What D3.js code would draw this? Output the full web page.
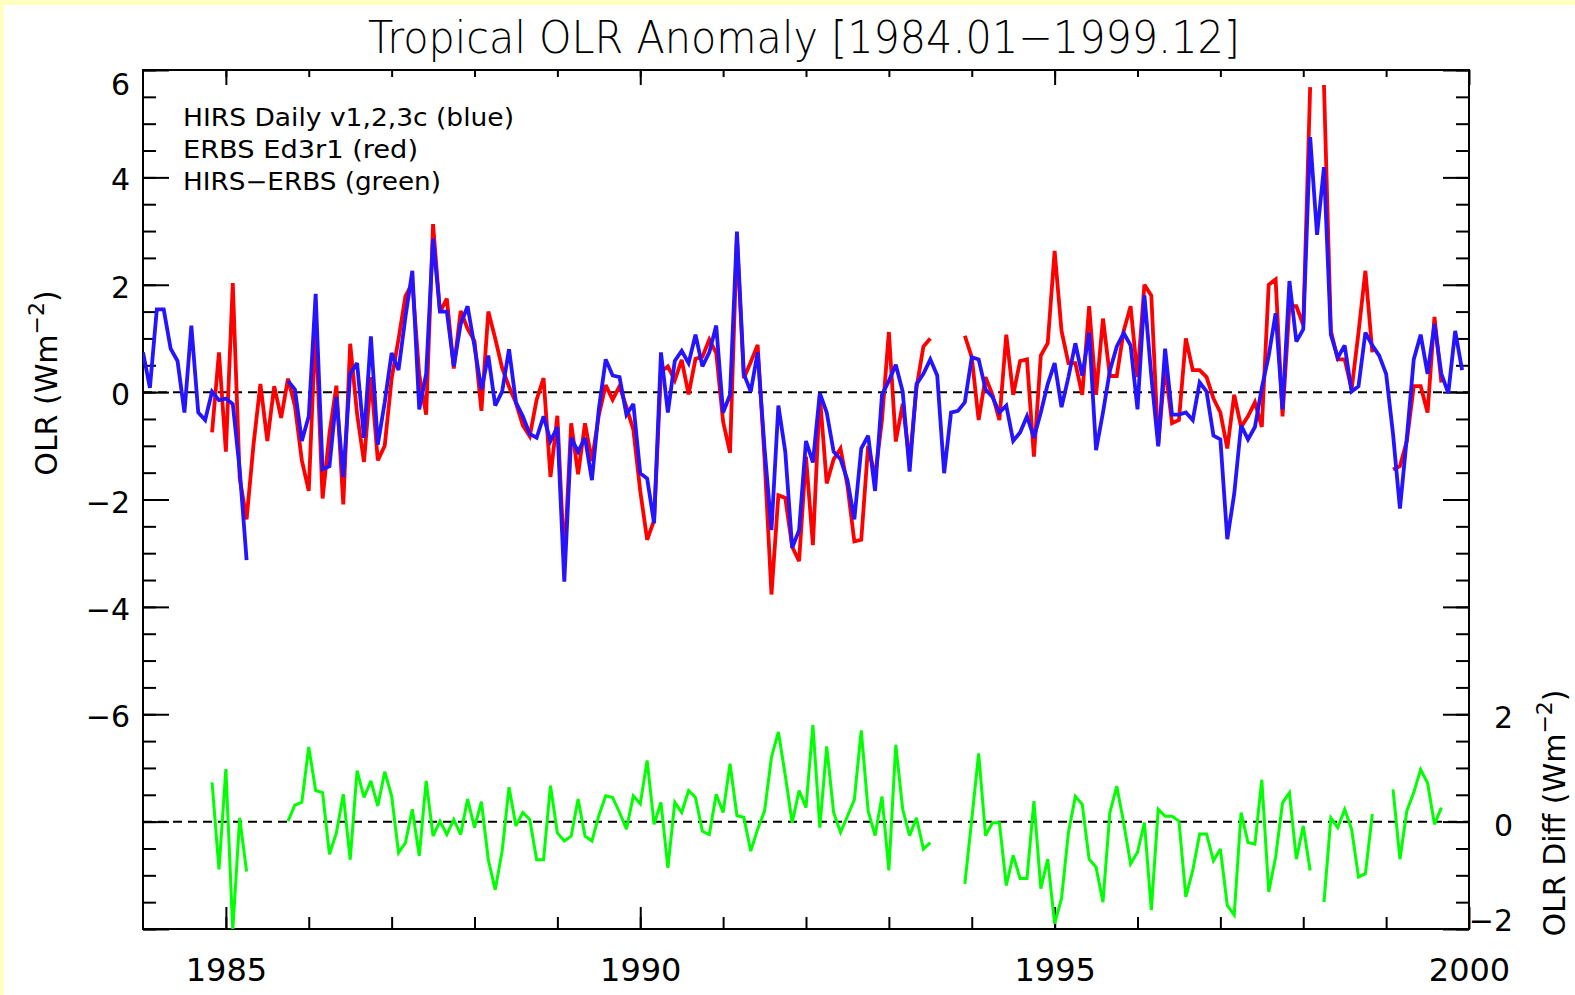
<!DOCTYPE html>
<html>
<head>
<meta charset="utf-8">
<script src="https://cdn.jsdelivr.net/npm/d3@7"></script>
<style>
  html, body { margin: 0; padding: 0; background: #ffffc0; }
  svg { display: block; }
</style>
</head>
<body>
<svg width="1575" height="995"></svg>
<script>
// monthly anomalies, 1984.01 - 1999.12 (one row = one year)
var startYear = 1984;
var hirs = [
  0.74, 0.08, 1.54, 1.54, 0.81, 0.58, -0.38, 1.24, -0.38, -0.52, 0.01, -0.15,
  -0.12, -0.22, -1.44, -3.13, null, null, null, null, null, 0.21, 0.05, -0.91,
  -0.45, 1.83, -1.44, -1.38, -0.09, -1.58, 0.34, 0.54, -0.85, 1.04, -0.98, -0.19,
  0.73, 0.41, 1.40, 2.26, -0.32, 0.34, 2.86, 1.50, 1.50, 0.48, 1.27, 1.60,
  0.85, 0.05, 0.68, -0.25, 0.01, 0.80, -0.19, -0.45, -0.78, -0.85, -0.45, -0.91,
  -0.65, -3.53, -0.85, -1.11, -0.85, -1.64, -0.32, 0.61, 0.31, 0.28, -0.42, -0.22,
  -1.51, -1.61, -2.44, 0.74, -0.38, 0.58, 0.77, 0.54, 1.07, 0.48, 0.74, 1.24,
  -0.38, -0.05, 2.99, 0.34, 0.01, 0.74, -1.05, -2.57, -0.25, -1.11, -2.90, -2.57,
  -0.91, -1.31, -0.02, -0.38, -1.11, -1.25, -1.64, -2.37, -1.05, -0.81, -1.84, -0.05,
  0.21, 0.51, 0.01, -1.48, 0.15, 0.34, 0.61, 0.31, -1.51, -0.38, -0.35, -0.19,
  0.65, 0.61, 0.05, -0.09, -0.38, -0.25, -0.91, -0.75, -0.45, -0.85, -0.38, 0.15,
  0.54, -0.28, 0.28, 0.91, 0.31, 1.11, -1.08, -0.38, 0.40, 0.85, 1.10, 0.87,
  -0.32, 1.80, 0.30, -1.01, 0.81, -0.42, -0.42, -0.38, -0.52, 0.18, 0.01, -0.81,
  -0.88, -2.74, -1.90, -0.62, -0.88, -0.65, 0.08, 0.68, 1.47, -0.32, 2.07, 0.94,
  1.17, 4.75, 2.93, 4.19, 1.07, 0.64, 0.87, 0.01, 0.11, 1.11, 0.87, 0.68,
  0.34, -0.78, -2.17, -0.85, 0.61, 1.07, 0.34, 1.27, 0.34, -0.02, 1.14, 0.41
];
var erbs = [
  null, null, null, null, null, null, null, null, null, null, -0.75, 0.74,
  -1.11, 2.03, -1.60, -2.37, -0.98, 0.15, -0.91, 0.11, -0.48, 0.25, -0.26, -1.27,
  -1.84, 1.25, -1.98, -0.77, 0.12, -2.09, 0.90, -0.41, -1.30, 0.28, -1.27, -1.00,
  0.25, 0.99, 1.79, 2.03, 0.32, -0.42, 3.13, 1.49, 1.74, 0.44, 1.51, 1.18,
  0.95, -0.35, 1.50, 1.00, 0.45, 0.10, -0.20, -0.62, -0.82, -0.14, 0.26, -1.58,
  -0.44, -3.17, -0.58, -1.53, -0.58, -1.28, -0.43, 0.13, -0.14, 0.11, -0.28, -0.70,
  -1.84, -2.75, -2.39, 0.38, 0.48, 0.22, 0.60, -0.04, 0.62, 0.66, 0.98, 0.73,
  -0.55, -1.13, 2.88, 0.26, 0.56, 0.88, -1.25, -3.77, -1.92, -1.97, -2.88, -3.15,
  -1.20, -2.85, -0.05, -1.70, -1.25, -1.05, -1.74, -2.78, -2.75, -1.00, -1.58, -0.52,
  1.12, -0.92, -0.22, -1.30, 0.08, 0.85, 1.00, null, null, null, null, 1.05,
  0.65, -0.52, 0.28, -0.05, -0.52, 1.07, -0.05, 0.58, 0.61, -1.20, 0.68, 0.91,
  2.63, 1.14, 0.54, 0.54, -0.05, 1.60, -0.05, 1.37, 0.30, 0.30, 1.14, 1.60,
  0.28, 2.00, 1.80, -0.98, 0.48, -0.58, -0.52, 1.00, 0.41, 0.41, 0.28, -0.12,
  -0.38, -1.05, -0.05, -0.65, -0.45, -0.19, -0.65, 2.00, 2.10, -0.45, 1.60, 1.60,
  1.25, 5.68, null, 5.72, 1.14, 0.61, 0.61, 0.05, 1.11, 2.26, 0.74, null,
  null, -1.44, -1.38, -0.91, 0.11, 0.11, -0.38, 1.40, 0.18, null, null, null
];
// HIRS-ERBS, plotted against the right axis
var diff = [
  null, null, null, null, null, null, null, null, null, null, 0.73, -0.89,
  0.98, -2.02, 0.07, -0.93, null, null, null, null, null, 0.01, 0.31, 0.36,
  1.39, 0.58, 0.54, -0.61, -0.21, 0.51, -0.71, 0.95, 0.45, 0.76, 0.29, 0.93,
  0.48, -0.58, -0.39, 0.23, -0.64, 0.76, -0.27, 0.01, -0.24, 0.04, -0.24, 0.42,
  -0.11, 0.37, -0.71, -1.27, -0.55, 0.64, -0.08, 0.17, 0.04, -0.71, -0.71, 0.67,
  -0.21, -0.36, -0.27, 0.42, -0.27, -0.36, 0.11, 0.48, 0.45, 0.17, -0.14, 0.48,
  0.33, 1.14, -0.05, 0.36, -0.86, 0.36, 0.17, 0.58, 0.45, -0.18, -0.24, 0.51,
  0.17, 1.08, 0.11, 0.08, -0.55, -0.14, 0.20, 1.20, 1.67, 0.86, -0.02, 0.58,
  0.26, 1.80, -0.11, 1.40, 0.17, -0.20, 0.10, 0.41, 1.70, 0.20, -0.26, 0.47,
  -0.91, 1.43, 0.23, -0.26, 0.07, -0.51, -0.39, null, null, null, null, -1.16,
  0.04, 1.27, -0.26, -0.02, -0.02, -1.19, -0.63, -1.06, -1.06, 0.38, -1.25, -0.70,
  -1.90, -1.43, -0.20, 0.47, 0.32, -0.70, -0.85, -1.50, 0.17, 0.66, -0.02, -0.79,
  -0.57, -0.02, -1.65, 0.23, 0.10, 0.10, 0.01, -1.40, -0.91, -0.23, -0.23, -0.73,
  -0.51, -1.56, -1.74, 0.17, -0.39, -0.42, 0.78, -1.31, -0.66, 0.35, 0.54, -0.70,
  -0.08, -0.91, null, -1.50, 0.07, -0.11, 0.23, -0.14, -1.03, -0.97, 0.14, null,
  null, 0.60, -0.70, 0.20, 0.54, 0.97, 0.72, -0.05, 0.26, null, null, null
];
var yLabelsLeft = [-6, -4, -2, 0, 2, 4, 6];
var yLabelsRight = [-2, 0, 2];
var xLabels = [1985, 1990, 1995, 2000];
var legendLines = ["HIRS Daily v1,2,3c (blue)", "ERBS Ed3r1 (red)", "HIRS\u2212ERBS (green)"];
var legendWidths = [331, 235, 258];

var FONT = '"DejaVu Sans", "Liberation Sans", sans-serif';
var svg = d3.select("svg"),
    W = 1575, H = 995,
    x0 = 143, x1 = 1469, y0 = 70, y1 = 929;

// yellow page with white sheet
svg.append("rect").attr("width", W).attr("height", H).attr("fill", "#ffffc0");
svg.append("rect").attr("x", 4).attr("y", 5).attr("width", W - 4).attr("height", H - 5).attr("fill", "#fff");

var x = d3.scaleLinear().domain([startYear, 2000]).range([x0, x1]),
    y = d3.scaleLinear().domain([-10, 6]).range([y1, y0]),
    y2 = d3.scaleLinear().domain([-2, 14]).range([y1, y0]);

function fmt(d) { return d < 0 ? "\u2212" + (-d) : "" + d; }
function t(i) { return startYear + i / 12; }

function styleAxis(g, size) {
  g.select(".domain").remove();
  g.attr("font-family", FONT).attr("font-size", size);
  g.selectAll("line").attr("stroke", "#000").attr("stroke-width", 2);
  g.selectAll("text").attr("fill", "#000");
}

var minorY = d3.range(-10, 6.01, 0.5),
    majorY = d3.range(-10, 6.01, 2);

// left axis
svg.append("g").attr("transform", "translate(" + x0 + ",0)")
  .call(d3.axisLeft(y).tickValues(minorY).tickSize(-13).tickFormat(""))
  .call(styleAxis, 30);
var gl = svg.append("g").attr("transform", "translate(" + x0 + ",0)")
  .call(d3.axisLeft(y).tickValues(majorY).tickSize(-26).tickPadding(13)
    .tickFormat(function(d) { return yLabelsLeft.indexOf(d) >= 0 ? fmt(d) : ""; }))
  .call(styleAxis, 30);
gl.selectAll("text").attr("dy", function(d) { return d === 6 ? "0.8em" : "0.42em"; });

// right axis (difference)
svg.append("g").attr("transform", "translate(" + x1 + ",0)")
  .call(d3.axisRight(y2).tickValues(minorY.map(function(d) { return d + 8; })).tickSize(-13).tickFormat(""))
  .call(styleAxis, 30);
var gr = svg.append("g").attr("transform", "translate(" + x1 + ",0)")
  .call(d3.axisRight(y2).tickValues(majorY.map(function(d) { return d + 8; })).tickSize(-26)
    .tickFormat(function(d) { return yLabelsRight.indexOf(d) >= 0 ? fmt(d) : ""; }))
  .call(styleAxis, 30);
gr.selectAll("text").attr("text-anchor", "end").attr("x", 44)
  .attr("dy", function(d) { return d === -2 ? "0.05em" : "0.45em"; });

// bottom and top axes
svg.append("g").attr("transform", "translate(0," + y1 + ")")
  .call(d3.axisBottom(x).tickValues(d3.range(1985, 2000)).tickSize(-12).tickFormat(""))
  .call(styleAxis, 32);
svg.append("g").attr("transform", "translate(0," + y1 + ")")
  .call(d3.axisBottom(x).tickValues(xLabels).tickSize(-22).tickPadding(29).tickFormat(function(d) { return d; }))
  .call(styleAxis, 32);
svg.append("g").attr("transform", "translate(0," + y0 + ")")
  .call(d3.axisTop(x).tickValues(d3.range(1985, 2000)).tickSize(-7).tickFormat(""))
  .call(styleAxis, 32);
svg.append("g").attr("transform", "translate(0," + y0 + ")")
  .call(d3.axisTop(x).tickValues(xLabels).tickSize(-15).tickFormat(""))
  .call(styleAxis, 32);

// frame
svg.append("rect").attr("x", x0).attr("y", y0).attr("width", x1 - x0).attr("height", y1 - y0)
  .attr("fill", "none").attr("stroke", "#000").attr("stroke-width", 2);

// zero lines
[y(0), y2(0)].forEach(function(yy) {
  svg.append("line").attr("x1", x0).attr("x2", x1).attr("y1", yy).attr("y2", yy)
    .attr("stroke", "#000").attr("stroke-width", 2).attr("stroke-dasharray", "9,6");
});

svg.append("clipPath").attr("id", "plot")
  .append("rect").attr("x", x0).attr("y", y0).attr("width", x1 - x0).attr("height", y1 - y0);

function series(vals, scale, color, w) {
  var line = d3.line()
    .defined(function(d) { return d != null; })
    .x(function(d, i) { return x(t(i)); })
    .y(function(d) { return scale(d); });
  svg.append("path").datum(vals)
    .attr("clip-path", "url(#plot)")
    .attr("fill", "none").attr("stroke", color).attr("stroke-width", w)
    .attr("stroke-linejoin", "miter").attr("stroke-miterlimit", 3)
    .attr("d", line);
}
series(erbs, y, "#ff0000", 3.8);
series(hirs, y, "#2414ff", 3.8);
series(diff, y2, "#00ff00", 3);

// title
svg.append("text").attr("x", 804).attr("y", 53)
  .attr("text-anchor", "middle").attr("font-family", FONT).attr("font-weight", 200)
  .attr("font-size", 45).attr("textLength", 872).attr("lengthAdjust", "spacingAndGlyphs")
  .text("Tropical OLR Anomaly [1984.01\u22121999.12]");

// legend text
legendLines.forEach(function(s, i) {
  svg.append("text").attr("x", 183).attr("y", 126 + i * 32)
    .attr("font-family", FONT).attr("font-size", 24)
    .attr("textLength", legendWidths[i]).attr("lengthAdjust", "spacingAndGlyphs")
    .text(s);
});

// axis titles
function axisTitle(cx, cy, label) {
  var tx = svg.append("text")
    .attr("transform", "translate(" + cx + "," + cy + ") rotate(-90)")
    .attr("text-anchor", "middle").attr("font-family", FONT)
    .attr("font-size", 30);
  tx.append("tspan").text(label + " (Wm");
  tx.append("tspan").attr("font-size", 22).attr("dy", -13).text("\u22122");
  tx.append("tspan").attr("dy", 13).text(")");
}
axisTitle(57, 383, "OLR");
axisTitle(1565, 813, "OLR Diff");
</script>
</body>
</html>
